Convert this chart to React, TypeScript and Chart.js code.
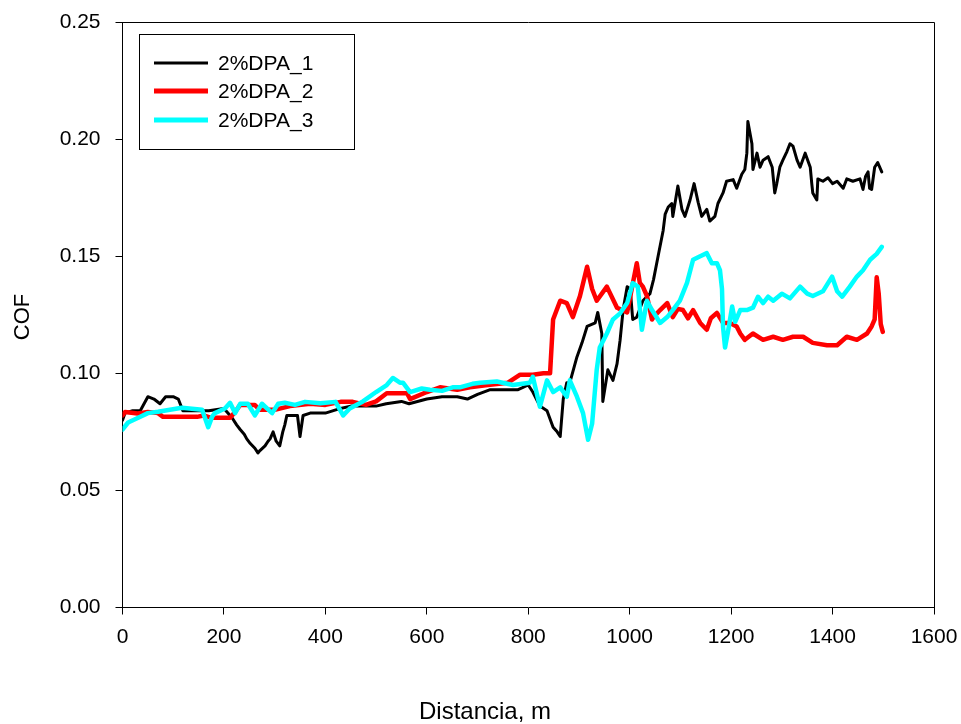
import React, { useEffect, useRef } from "react";
import { Chart, registerables } from "chart.js";

Chart.register(...registerables);

const seriesNames = ["2%DPA_1", "2%DPA_2", "2%DPA_3"];
const seriesColors = ["#000000", "#ff0000", "#00ffff"];

const xTicks = [0, 200, 400, 600, 800, 1000, 1200, 1400, 1600];
const yTicks = [0.0, 0.05, 0.1, 0.15, 0.2, 0.25];

const dist1 = [0, 5, 20, 35, 50, 62, 74, 85, 100, 110, 119, 140, 170, 200, 216, 225, 232, 240, 245, 252, 261, 267, 271, 281, 287, 291, 297, 303, 310, 316, 320, 324, 330, 345, 350, 356, 370, 400, 430, 450, 470, 500, 520, 550, 565, 600, 630, 660, 680, 700, 725, 750, 780, 800, 809, 823, 837, 849, 857, 863, 869, 876, 882, 896, 906, 916, 932, 937, 945, 947, 957, 967, 975, 981, 987, 995, 1001, 1006, 1014, 1026, 1040, 1047, 1056, 1066, 1070, 1076, 1083, 1085, 1095, 1103, 1109, 1119, 1127, 1135, 1142, 1152, 1158, 1168, 1174, 1184, 1191, 1204, 1211, 1221, 1227, 1231, 1233, 1241, 1243, 1251, 1257, 1263, 1273, 1281, 1286, 1290, 1296, 1302, 1310, 1316, 1322, 1330, 1336, 1346, 1356, 1359, 1361, 1369, 1371, 1381, 1391, 1400, 1409, 1415, 1421, 1428, 1440, 1454, 1460, 1465, 1470, 1473, 1477, 1483, 1489, 1497];
const cof1 = [0.080, 0.083, 0.084, 0.084, 0.090, 0.089, 0.087, 0.090, 0.090, 0.089, 0.084, 0.084, 0.084, 0.085, 0.081, 0.078, 0.076, 0.074, 0.072, 0.070, 0.068, 0.066, 0.067, 0.069, 0.071, 0.072, 0.075, 0.071, 0.069, 0.075, 0.078, 0.082, 0.082, 0.082, 0.073, 0.082, 0.083, 0.083, 0.085, 0.086, 0.086, 0.086, 0.087, 0.088, 0.087, 0.089, 0.090, 0.090, 0.089, 0.091, 0.093, 0.093, 0.093, 0.095, 0.092, 0.086, 0.084, 0.077, 0.075, 0.073, 0.089, 0.096, 0.096, 0.107, 0.113, 0.120, 0.1215, 0.126, 0.117, 0.088, 0.1015, 0.097, 0.104, 0.114, 0.127, 0.137, 0.136, 0.123, 0.124, 0.131, 0.134, 0.140, 0.150, 0.161, 0.168, 0.171, 0.1725, 0.167, 0.180, 0.170, 0.167, 0.174, 0.181, 0.173, 0.167, 0.170, 0.165, 0.167, 0.1725, 0.177, 0.182, 0.1827, 0.179, 0.185, 0.187, 0.194, 0.2075, 0.198, 0.187, 0.194, 0.188, 0.191, 0.1925, 0.188, 0.177, 0.181, 0.188, 0.191, 0.1947, 0.198, 0.197, 0.191, 0.188, 0.194, 0.188, 0.181, 0.177, 0.174, 0.183, 0.182, 0.1835, 0.181, 0.182, 0.1805, 0.179, 0.183, 0.182, 0.183, 0.1785, 0.184, 0.186, 0.179, 0.1785, 0.188, 0.190, 0.186];

const dist2 = [0, 5, 30, 50, 70, 80, 120, 147, 160, 175, 212, 222, 232, 261, 270, 300, 330, 370, 400, 430, 454, 480, 500, 521, 561, 567, 600, 626, 660, 685, 720, 760, 784, 809, 830, 843, 849, 863, 876, 888, 902, 916, 926, 935, 955, 975, 995, 1014, 1020, 1026, 1034, 1044, 1047, 1060, 1074, 1085, 1095, 1105, 1115, 1125, 1139, 1152, 1160, 1172, 1184, 1198, 1211, 1218, 1227, 1243, 1263, 1283, 1302, 1322, 1342, 1361, 1389, 1409, 1428, 1448, 1468, 1477, 1483, 1487, 1491, 1495, 1499];
const cof2 = [0.082, 0.0835, 0.0828, 0.0835, 0.083, 0.0814, 0.0814, 0.0814, 0.082, 0.081, 0.081, 0.0835, 0.0865, 0.0865, 0.0844, 0.0844, 0.086, 0.087, 0.0865, 0.0878, 0.0878, 0.0865, 0.088, 0.0915, 0.0915, 0.089, 0.092, 0.094, 0.093, 0.094, 0.095, 0.096, 0.0994, 0.0994, 0.100, 0.100, 0.123, 0.131, 0.130, 0.124, 0.133, 0.1455, 0.136, 0.131, 0.137, 0.128, 0.126, 0.147, 0.1386, 0.137, 0.133, 0.123, 0.124, 0.127, 0.130, 0.124, 0.1275, 0.127, 0.1235, 0.127, 0.1215, 0.1186, 0.1235, 0.1258, 0.1215, 0.1215, 0.120, 0.117, 0.1143, 0.117, 0.1143, 0.1156, 0.1143, 0.1156, 0.1156, 0.113, 0.112, 0.112, 0.1156, 0.1143, 0.117, 0.120, 0.123, 0.141, 0.134, 0.121, 0.1177];

const dist3 = [0, 11, 31, 50, 70, 117, 157, 169, 177, 182, 202, 212, 222, 232, 247, 261, 275, 295, 307, 320, 340, 360, 390, 420, 435, 448, 474, 500, 521, 533, 547, 553, 567, 590, 606, 630, 651, 665, 690, 705, 738, 770, 803, 809, 823, 837, 849, 863, 876, 882, 896, 908, 918, 926, 935, 941, 955, 967, 981, 995, 1006, 1016, 1024, 1034, 1044, 1060, 1074, 1085, 1099, 1113, 1125, 1139, 1152, 1162, 1172, 1178, 1182, 1184, 1188, 1194, 1202, 1208, 1218, 1231, 1243, 1253, 1263, 1273, 1283, 1300, 1316, 1336, 1350, 1361, 1381, 1399, 1409, 1419, 1434, 1448, 1460, 1474, 1487, 1497];
const cof3 = [0.076, 0.079, 0.081, 0.083, 0.0836, 0.0853, 0.0844, 0.077, 0.0816, 0.083, 0.085, 0.0874, 0.083, 0.087, 0.087, 0.082, 0.087, 0.083, 0.087, 0.0874, 0.0865, 0.0878, 0.0872, 0.0878, 0.082, 0.085, 0.088, 0.092, 0.095, 0.098, 0.096, 0.096, 0.092, 0.0935, 0.093, 0.0925, 0.094, 0.094, 0.0955, 0.096, 0.0965, 0.095, 0.096, 0.0985, 0.0857, 0.097, 0.092, 0.094, 0.090, 0.097, 0.090, 0.083, 0.0716, 0.0786, 0.1015, 0.111, 0.117, 0.123, 0.1256, 0.130, 0.1385, 0.137, 0.1186, 0.131, 0.127, 0.1215, 0.124, 0.127, 0.131, 0.1386, 0.1485, 0.150, 0.1513, 0.147, 0.147, 0.144, 0.136, 0.120, 0.111, 0.118, 0.1285, 0.122, 0.127, 0.127, 0.128, 0.1327, 0.130, 0.1327, 0.131, 0.134, 0.132, 0.137, 0.134, 0.133, 0.135, 0.1413, 0.135, 0.1327, 0.137, 0.1413, 0.144, 0.1485, 0.151, 0.154];

const FONT = "'Liberation Sans', Arial, sans-serif";

function zip(xs: number[], ys: number[]) {
  return xs.map((x, i) => ({ x, y: ys[i] }));
}

function clearPadding(s: any) {
  s.paddingTop = 0;
  s.paddingBottom = 0;
  s.paddingLeft = 0;
  s.paddingRight = 0;
}

const framePlugin = {
  id: "frameAndLegend",
  afterDraw(chart: any) {
    const { ctx, chartArea } = chart;
    ctx.save();
    ctx.strokeStyle = "#000";
    ctx.lineWidth = 1;
    ctx.beginPath();
    ctx.moveTo(chartArea.left, chartArea.top + 0.5);
    ctx.lineTo(chartArea.right + 0.5, chartArea.top + 0.5);
    ctx.lineTo(chartArea.right + 0.5, chartArea.bottom);
    ctx.stroke();

    ctx.strokeRect(139.5, 34.5, 215, 115);
    const rows = [63, 91, 120];
    const widths = [3, 5, 5];
    ctx.font = `21px ${FONT}`;
    ctx.textBaseline = "middle";
    ctx.textAlign = "left";
    rows.forEach((y, i) => {
      ctx.strokeStyle = seriesColors[i];
      ctx.lineWidth = widths[i];
      ctx.beginPath();
      ctx.moveTo(154, y);
      ctx.lineTo(208, y);
      ctx.stroke();
      ctx.fillStyle = "#000";
      ctx.fillText(seriesNames[i], 218, y + 1);
    });

    ctx.fillStyle = "#000";
    ctx.textAlign = "center";
    ctx.textBaseline = "middle";
    ctx.font = `24px ${FONT}`;
    ctx.fillText("Distancia, m", 485, 712);
    ctx.save();
    ctx.translate(23, 317);
    ctx.rotate(-Math.PI / 2);
    ctx.font = `22px ${FONT}`;
    ctx.fillText("COF", 0, 0);
    ctx.restore();
    ctx.restore();
  },
};

export default function App() {
  const ref = useRef<HTMLCanvasElement>(null);
  useEffect(() => {
    document.body.style.margin = "0";
    const canvas = ref.current!;
    const chart = new Chart(canvas, {
      type: "line",
      data: {
        datasets: [
          { label: seriesNames[0], data: zip(dist1, cof1), borderColor: seriesColors[0], borderWidth: 3, pointRadius: 0, order: 3 },
          { label: seriesNames[1], data: zip(dist2, cof2), borderColor: seriesColors[1], borderWidth: 4.5, pointRadius: 0, order: 2 },
          { label: seriesNames[2], data: zip(dist3, cof3), borderColor: seriesColors[2], borderWidth: 4.5, pointRadius: 0, order: 1 },
        ],
      },
      options: {
        responsive: false,
        animation: false,
        layout: { padding: { left: 0, right: 27, top: 22, bottom: 0 } },
        plugins: { legend: { display: false }, tooltip: { enabled: false } },
        elements: { line: { tension: 0, borderJoinStyle: "round", borderCapStyle: "round" } },
        scales: {
          x: {
            type: "linear",
            min: 0,
            max: 1600,
            afterBuildTicks: (s: any) => { s.ticks = xTicks.map((v) => ({ value: v })); },
            afterFit: (s: any) => { s.height = 116.5; clearPadding(s); },
            grid: { display: true, drawOnChartArea: false, drawTicks: true, tickLength: 7, color: "#000" },
            border: { display: true, color: "#000", width: 1 },
            ticks: { color: "#000", font: { family: FONT, size: 21 }, padding: 10, maxRotation: 0, autoSkip: false, callback: (v: any) => String(v) },
          },
          y: {
            type: "linear",
            min: 0,
            max: 0.25,
            afterBuildTicks: (s: any) => { s.ticks = yTicks.map((v) => ({ value: v })); },
            afterFit: (s: any) => { s.width = 122.5; clearPadding(s); },
            grid: { display: true, drawOnChartArea: false, drawTicks: true, tickLength: 7, color: "#000" },
            border: { display: true, color: "#000", width: 1 },
            ticks: { color: "#000", font: { family: FONT, size: 21 }, padding: 15, autoSkip: false, callback: (v: any) => Number(v).toFixed(2) },
          },
        },
      },
      plugins: [framePlugin],
    });
    return () => chart.destroy();
  }, []);
  return <canvas ref={ref} width={961} height={724} style={{ display: "block" }} />;
}
